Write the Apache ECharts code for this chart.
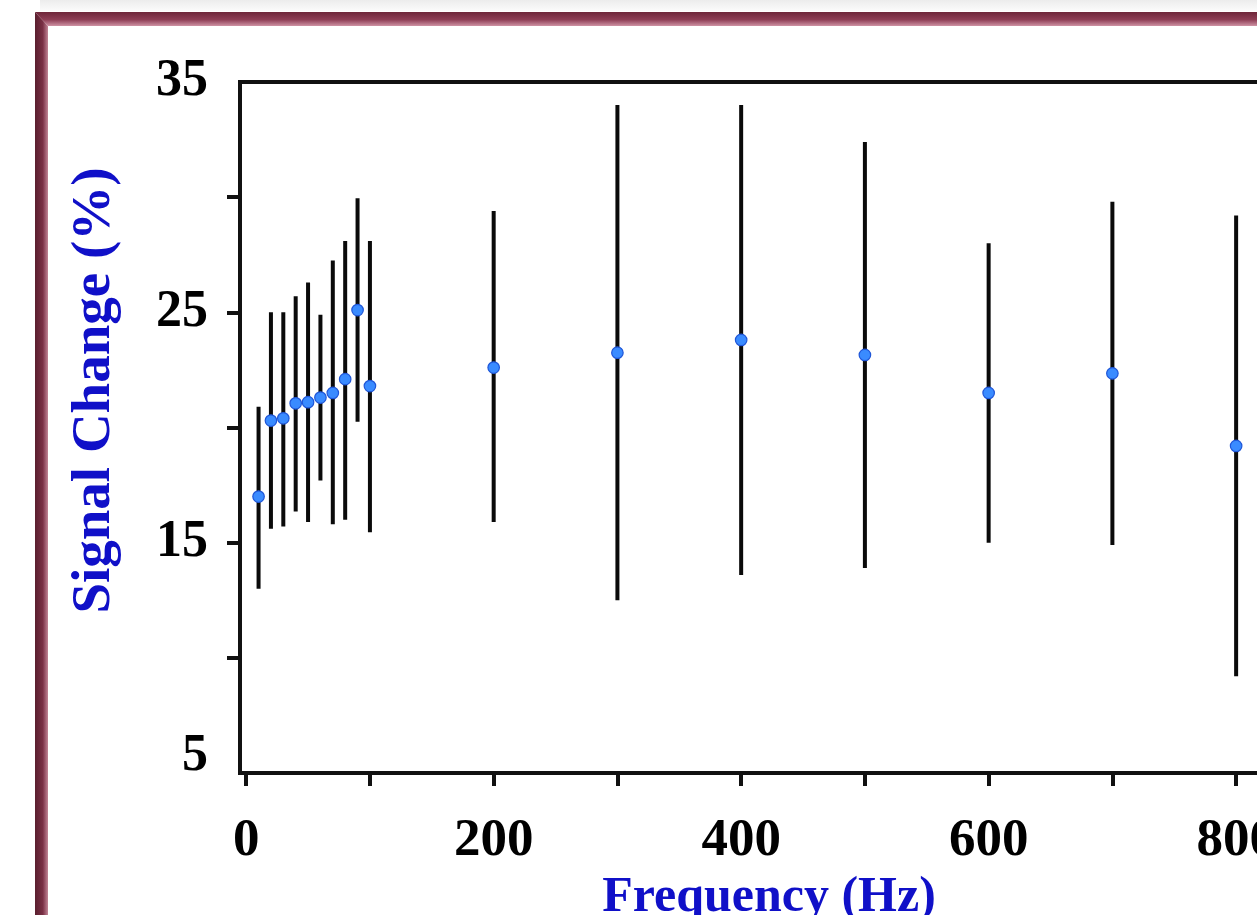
<!DOCTYPE html>
<html>
<head>
<meta charset="utf-8">
<title>Signal Change vs Frequency</title>
<script src="https://cdn.jsdelivr.net/npm/echarts@6/dist/echarts.min.js"></script>
<style>
  html, body { margin: 0; padding: 0; background: #ffffff; overflow: hidden; width: 1257px; height: 915px; }
  /* the plot panel runs on past the right edge of the page */
  #chart { width: 1300px; height: 915px; }
</style>
</head>
<body>
<div id="chart"></div>
<script>
// Stimulation frequency (Hz)
const frequencies = [10, 20, 30, 40, 50, 60, 70, 80, 90, 100, 200, 300, 400, 500, 600, 700, 800];
// Mean signal change (%) at each frequency
const meanChange = [17.0, 20.3, 20.4, 21.05, 21.1, 21.3, 21.5, 22.1, 25.1, 21.8, 22.6, 23.25, 23.8, 23.15, 21.5, 22.35, 19.2];
// Lower and upper ends of the error bars (%)
const lowerBound = [13.0, 15.6, 15.7, 16.35, 15.9, 17.7, 15.8, 16.0, 20.25, 15.45, 15.9, 12.5, 13.6, 13.9, 15.0, 14.9, 9.2];
const upperBound = [20.9, 25.0, 25.0, 25.7, 26.3, 24.9, 27.25, 28.1, 29.95, 28.1, 29.4, 34.0, 34.0, 32.4, 28.0, 29.8, 29.2];
// Axis tick positions and labels
const xTickValues = [0, 100, 200, 300, 400, 500, 600, 700, 800];
const xLabelValues = [0, 200, 400, 600, 800];
const yTickValues = [10, 15, 20, 25, 30];
const yLabelValues = [5, 15, 25, 35];

const serif = "'Liberation Serif', 'Times New Roman', Times, serif";
const titleBlue = '#1010c8';

const chart = echarts.init(document.getElementById('chart'), null, { renderer: 'canvas' });

const points = frequencies.map((f, i) => [f, meanChange[i]]);
const bars = frequencies.map((f, i) => [f, lowerBound[i], upperBound[i]]);

const option = {
  backgroundColor: '#ffffff',
  animation: false,
  graphic: [
    // faint grey strip above the frame
    { type: 'rect', z: -10, silent: true,
      shape: { x: 40, y: 0, width: 1260, height: 11 },
      style: { fill: new echarts.graphic.LinearGradient(0, 0, 0, 1, [
        { offset: 0, color: '#ececec' }, { offset: 1, color: '#fbfbfb' }]) } },
    // top edge of the maroon frame
    { type: 'polygon', z: 100, silent: true,
      shape: { points: [[35, 12], [1300, 12], [1300, 26], [48, 26]] },
      style: { fill: new echarts.graphic.LinearGradient(0, 0, 0, 1, [
        { offset: 0, color: '#6e2639' }, { offset: 0.55, color: '#8e3e55' }, { offset: 1, color: '#cf93a4' }]) } },
    // left edge of the maroon frame
    { type: 'polygon', z: 100, silent: true,
      shape: { points: [[35, 12], [48, 26], [48, 915], [35, 915]] },
      style: { fill: new echarts.graphic.LinearGradient(0, 0, 1, 0, [
        { offset: 0, color: '#5a1f2e' }, { offset: 0.6, color: '#7a3045' }, { offset: 1, color: '#c28596' }]) } }
  ],
  grid: {
    left: 240, top: 82, right: 2, bottom: 142,
    outerBoundsMode: 'none',
    show: true, borderColor: '#111111', borderWidth: 4, backgroundColor: 'transparent'
  },
  xAxis: {
    type: 'value', min: -5, max: 850,
    name: 'Frequency (Hz)', nameLocation: 'middle', nameGap: 89,
    nameTextStyle: { color: titleBlue, fontFamily: serif, fontWeight: 'bold', fontSize: 50 },
    axisLine: { show: true, onZero: false, lineStyle: { color: '#111111', width: 4 } },
    axisTick: { show: true, customValues: xTickValues, length: 13, lineStyle: { color: '#111111', width: 4 } },
    axisLabel: { customValues: xLabelValues, margin: 42, color: '#000000', fontFamily: serif, fontWeight: 'bold', fontSize: 53 },
    splitLine: { show: false }
  },
  yAxis: {
    type: 'value', min: 5, max: 35, interval: 5,
    name: 'Signal Change (%)', nameLocation: 'middle', nameGap: 118, nameRotate: 90,
    nameTextStyle: { color: titleBlue, fontFamily: serif, fontWeight: 'bold', fontSize: 55, padding: [0, 0, 0, 74] },
    axisLine: { show: true, onZero: false, lineStyle: { color: '#111111', width: 4 } },
    axisTick: { show: true, customValues: yTickValues, length: 13, lineStyle: { color: '#111111', width: 4 } },
    axisLabel: {
      customValues: yLabelValues, margin: 32, color: '#000000', fontFamily: serif, fontWeight: 'bold', fontSize: 52,
      formatter: v => (v === 5 ? '{lo|5}' : String(v)),
      rich: { lo: { fontFamily: serif, fontWeight: 'bold', fontSize: 52, color: '#000000', padding: [0, 0, 32, 0] } }
    },
    splitLine: { show: false }
  },
  series: [
    {
      name: 'range', type: 'custom', z: 2,
      data: bars,
      renderItem: (params, api) => {
        const x = api.value(0);
        const lo = api.coord([x, api.value(1)]);
        const hi = api.coord([x, api.value(2)]);
        return {
          type: 'line',
          shape: { x1: lo[0], y1: lo[1], x2: hi[0], y2: hi[1] },
          style: { stroke: '#0a0a0a', lineWidth: 4 }
        };
      },
      encode: { x: 0, y: [1, 2] }
    },
    {
      name: 'mean', type: 'scatter', z: 5,
      data: points, symbol: 'circle', symbolSize: 11.5,
      itemStyle: { color: '#3a8bff', borderColor: '#1f56d8', borderWidth: 1.2, opacity: 1 }
    }
  ]
};

chart.setOption(option);
</script>
</body>
</html>
